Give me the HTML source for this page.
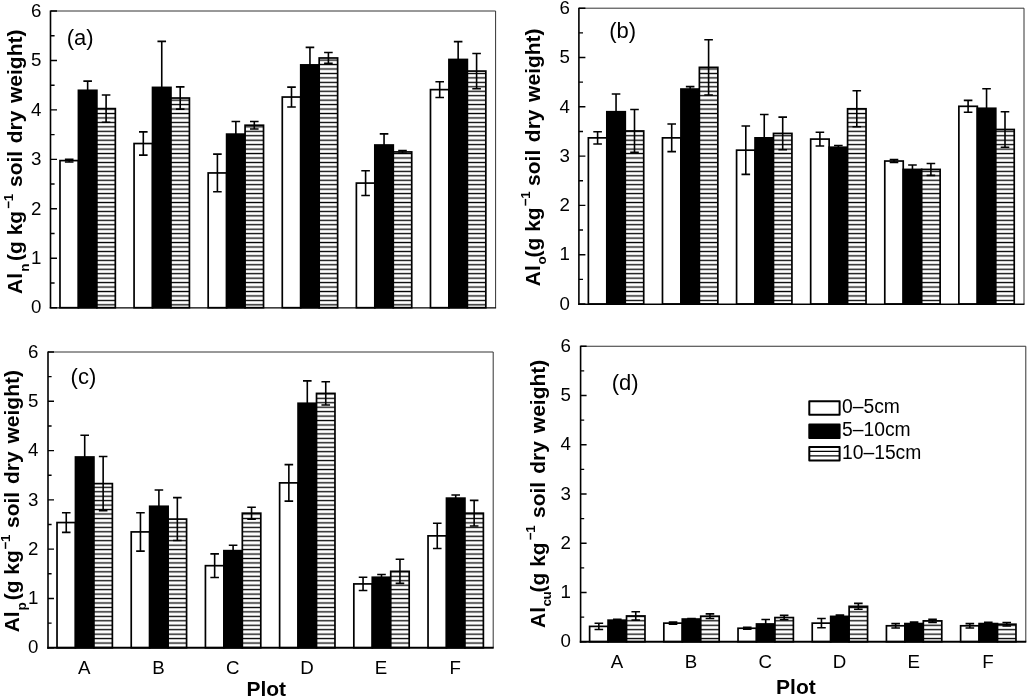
<!DOCTYPE html>
<html lang="en"><head><meta charset="utf-8"><title>Al fractions by plot and depth</title>
<style>html,body{margin:0;padding:0;background:#fff}body{width:1027px;height:697px;overflow:hidden}svg{display:block}
text{font-family:"Liberation Sans",Arial,Helvetica,sans-serif;fill:#000}
.tk{font-size:18.7px}.lab{font-size:21px;font-weight:bold;fill:#000}.ss{font-size:13.5px;letter-spacing:-0.6px}.lg{font-size:19.3px}.tag{font-size:22px}
</style></head><body>
<svg width="1027" height="697" viewBox="0 0 1027 697">
<defs><pattern id="hz" patternUnits="userSpaceOnUse" x="0" y="0" width="40" height="4.45"><rect width="40" height="4.45" fill="#fff"/><rect y="1.6" width="40" height="1.3" fill="#000"/></pattern></defs>
<rect width="1027" height="697" fill="#fff"/>
<g id="panel-a">
<rect x="59.98" y="160.59" width="18.45" height="147.11" fill="#fff" stroke="#000" stroke-width="1.7"/>
<path d="M69.20 159.20V161.97M64.90 159.20H73.50M64.90 161.97H73.50" stroke="#000" stroke-width="1.6" fill="none"/>
<rect x="78.43" y="90.32" width="18.45" height="217.38" fill="#000" stroke="#000" stroke-width="1.7"/>
<path d="M87.65 81.17V99.47M83.35 81.17H91.95M83.35 99.47H91.95" stroke="#000" stroke-width="1.6" fill="none"/>
<rect x="96.88" y="108.61" width="18.45" height="199.09" fill="url(#hz)" stroke="#000" stroke-width="1.7"/>
<path d="M106.10 95.02V122.21M101.80 95.02H110.40M101.80 122.21H110.40" stroke="#000" stroke-width="1.6" fill="none"/>
<rect x="134.07" y="143.53" width="18.45" height="164.17" fill="#fff" stroke="#000" stroke-width="1.7"/>
<path d="M143.30 131.91V155.15M139.00 131.91H147.60M139.00 155.15H147.60" stroke="#000" stroke-width="1.6" fill="none"/>
<rect x="152.52" y="87.40" width="18.45" height="220.30" fill="#000" stroke="#000" stroke-width="1.7"/>
<path d="M161.75 41.41V133.39M157.45 41.41H166.05M157.45 133.39H166.05" stroke="#000" stroke-width="1.6" fill="none"/>
<rect x="170.97" y="98.03" width="18.45" height="209.67" fill="url(#hz)" stroke="#000" stroke-width="1.7"/>
<path d="M180.20 86.91V109.16M175.90 86.91H184.50M175.90 109.16H184.50" stroke="#000" stroke-width="1.6" fill="none"/>
<rect x="208.18" y="172.95" width="18.45" height="134.75" fill="#fff" stroke="#000" stroke-width="1.7"/>
<path d="M217.40 154.16V191.74M213.10 154.16H221.70M213.10 191.74H221.70" stroke="#000" stroke-width="1.6" fill="none"/>
<rect x="226.62" y="134.13" width="18.45" height="173.57" fill="#000" stroke="#000" stroke-width="1.7"/>
<path d="M235.85 121.52V146.74M231.55 121.52H240.15M231.55 146.74H240.15" stroke="#000" stroke-width="1.6" fill="none"/>
<rect x="245.08" y="125.23" width="18.45" height="182.47" fill="url(#hz)" stroke="#000" stroke-width="1.7"/>
<path d="M254.30 121.52V128.94M250.00 121.52H258.60M250.00 128.94H258.60" stroke="#000" stroke-width="1.6" fill="none"/>
<rect x="282.28" y="97.04" width="18.45" height="210.66" fill="#fff" stroke="#000" stroke-width="1.7"/>
<path d="M291.50 87.15V106.93M287.20 87.15H295.80M287.20 106.93H295.80" stroke="#000" stroke-width="1.6" fill="none"/>
<rect x="300.73" y="64.90" width="18.45" height="242.80" fill="#000" stroke="#000" stroke-width="1.7"/>
<path d="M309.95 47.35V82.46M305.65 47.35H314.25M305.65 82.46H314.25" stroke="#000" stroke-width="1.6" fill="none"/>
<rect x="319.18" y="57.98" width="18.45" height="249.72" fill="url(#hz)" stroke="#000" stroke-width="1.7"/>
<path d="M328.40 52.54V63.42M324.10 52.54H332.70M324.10 63.42H332.70" stroke="#000" stroke-width="1.6" fill="none"/>
<rect x="356.38" y="183.09" width="18.45" height="124.61" fill="#fff" stroke="#000" stroke-width="1.7"/>
<path d="M365.60 170.72V195.45M361.30 170.72H369.90M361.30 195.45H369.90" stroke="#000" stroke-width="1.6" fill="none"/>
<rect x="374.83" y="145.01" width="18.45" height="162.69" fill="#000" stroke="#000" stroke-width="1.7"/>
<path d="M384.05 133.88V156.14M379.75 133.88H388.35M379.75 156.14H388.35" stroke="#000" stroke-width="1.6" fill="none"/>
<rect x="393.28" y="151.93" width="18.45" height="155.77" fill="url(#hz)" stroke="#000" stroke-width="1.7"/>
<path d="M402.50 150.55V153.32M398.20 150.55H406.80M398.20 153.32H406.80" stroke="#000" stroke-width="1.6" fill="none"/>
<rect x="430.48" y="89.63" width="18.45" height="218.07" fill="#fff" stroke="#000" stroke-width="1.7"/>
<path d="M439.70 81.71V97.54M435.40 81.71H444.00M435.40 97.54H444.00" stroke="#000" stroke-width="1.6" fill="none"/>
<rect x="448.93" y="59.46" width="18.45" height="248.24" fill="#000" stroke="#000" stroke-width="1.7"/>
<path d="M458.15 41.66V77.26M453.85 41.66H462.45M453.85 77.26H462.45" stroke="#000" stroke-width="1.6" fill="none"/>
<rect x="467.38" y="71.08" width="18.45" height="236.62" fill="url(#hz)" stroke="#000" stroke-width="1.7"/>
<path d="M476.60 53.43V88.74M472.30 53.43H480.90M472.30 88.74H480.90" stroke="#000" stroke-width="1.6" fill="none"/>
<path d="M51.00 11.00H495.60V307.70" stroke="#333" stroke-width="1" fill="none"/>
<path d="M50.50 10.50V308.35" stroke="#000" stroke-width="1.6" fill="none"/>
<path d="M49.70 307.95H496.10" stroke="#000" stroke-width="1.3" fill="none"/>
<path d="M50.50 307.70h6.5M50.50 282.97h4.1M50.50 258.25h6.5M50.50 233.52h4.1M50.50 208.80h6.5M50.50 184.07h4.1M50.50 159.35h6.5M50.50 134.62h4.1M50.50 109.90h6.5M50.50 85.18h4.1M50.50 60.45h6.5M50.50 35.73h4.1M50.50 11.00h6.5" stroke="#000" stroke-width="1.4" fill="none"/>
<text class="tk" x="41.40" y="313.40" text-anchor="end">0</text>
<text class="tk" x="41.40" y="263.95" text-anchor="end">1</text>
<text class="tk" x="41.40" y="214.50" text-anchor="end">2</text>
<text class="tk" x="41.40" y="165.05" text-anchor="end">3</text>
<text class="tk" x="41.40" y="115.60" text-anchor="end">4</text>
<text class="tk" x="41.40" y="66.15" text-anchor="end">5</text>
<text class="tk" x="41.40" y="16.70" text-anchor="end">6</text>
<text class="tag" x="66.80" y="44.50">(a)</text>
<text class="lab" transform="translate(22.30 294.00) rotate(-90)"><tspan x="0" y="0">Al</tspan><tspan class="ss" x="22.20" y="6.2">n</tspan><tspan x="33.00" y="0">(g kg</tspan><tspan class="ss" x="85.40" y="-9.4">−1</tspan><tspan x="107.00" y="0" style="word-spacing:1.75px">soil dry weight)</tspan></text>
</g>
<g id="panel-b">
<rect x="588.38" y="137.86" width="18.45" height="166.14" fill="#fff" stroke="#000" stroke-width="1.7"/>
<path d="M597.60 131.70V144.02M593.30 131.70H601.90M593.30 144.02H601.90" stroke="#000" stroke-width="1.6" fill="none"/>
<rect x="606.83" y="111.73" width="18.45" height="192.27" fill="#000" stroke="#000" stroke-width="1.7"/>
<path d="M616.05 93.98V129.48M611.75 93.98H620.35M611.75 129.48H620.35" stroke="#000" stroke-width="1.6" fill="none"/>
<rect x="625.27" y="130.96" width="18.45" height="173.04" fill="url(#hz)" stroke="#000" stroke-width="1.7"/>
<path d="M634.50 109.51V152.40M630.20 109.51H638.80M630.20 152.40H638.80" stroke="#000" stroke-width="1.6" fill="none"/>
<rect x="662.48" y="137.86" width="18.45" height="166.14" fill="#fff" stroke="#000" stroke-width="1.7"/>
<path d="M671.70 124.05V151.66M667.40 124.05H676.00M667.40 151.66H676.00" stroke="#000" stroke-width="1.6" fill="none"/>
<rect x="680.93" y="89.05" width="18.45" height="214.95" fill="#000" stroke="#000" stroke-width="1.7"/>
<path d="M690.15 86.59V91.52M685.85 86.59H694.45M685.85 91.52H694.45" stroke="#000" stroke-width="1.6" fill="none"/>
<rect x="699.38" y="67.36" width="18.45" height="236.64" fill="url(#hz)" stroke="#000" stroke-width="1.7"/>
<path d="M708.60 39.75V94.97M704.30 39.75H712.90M704.30 94.97H712.90" stroke="#000" stroke-width="1.6" fill="none"/>
<rect x="736.58" y="150.18" width="18.45" height="153.82" fill="#fff" stroke="#000" stroke-width="1.7"/>
<path d="M745.80 126.03V174.34M741.50 126.03H750.10M741.50 174.34H750.10" stroke="#000" stroke-width="1.6" fill="none"/>
<rect x="755.03" y="137.86" width="18.45" height="166.14" fill="#000" stroke="#000" stroke-width="1.7"/>
<path d="M764.25 114.44V161.28M759.95 114.44H768.55M759.95 161.28H768.55" stroke="#000" stroke-width="1.6" fill="none"/>
<rect x="773.48" y="133.42" width="18.45" height="170.58" fill="url(#hz)" stroke="#000" stroke-width="1.7"/>
<path d="M782.70 117.15V149.69M778.40 117.15H787.00M778.40 149.69H787.00" stroke="#000" stroke-width="1.6" fill="none"/>
<rect x="810.68" y="139.09" width="18.45" height="164.91" fill="#fff" stroke="#000" stroke-width="1.7"/>
<path d="M819.90 132.19V145.99M815.60 132.19H824.20M815.60 145.99H824.20" stroke="#000" stroke-width="1.6" fill="none"/>
<rect x="829.13" y="147.23" width="18.45" height="156.77" fill="#000" stroke="#000" stroke-width="1.7"/>
<path d="M838.35 145.50V148.95M834.05 145.50H842.65M834.05 148.95H842.65" stroke="#000" stroke-width="1.6" fill="none"/>
<rect x="847.58" y="108.77" width="18.45" height="195.23" fill="url(#hz)" stroke="#000" stroke-width="1.7"/>
<path d="M856.80 90.78V126.77M852.50 90.78H861.10M852.50 126.77H861.10" stroke="#000" stroke-width="1.6" fill="none"/>
<rect x="884.78" y="161.03" width="18.45" height="142.97" fill="#fff" stroke="#000" stroke-width="1.7"/>
<path d="M894.00 159.65V162.41M889.70 159.65H898.30M889.70 162.41H898.30" stroke="#000" stroke-width="1.6" fill="none"/>
<rect x="903.23" y="169.41" width="18.45" height="134.59" fill="#000" stroke="#000" stroke-width="1.7"/>
<path d="M912.45 164.97V173.85M908.15 164.97H916.75M908.15 173.85H916.75" stroke="#000" stroke-width="1.6" fill="none"/>
<rect x="921.68" y="169.41" width="18.45" height="134.59" fill="url(#hz)" stroke="#000" stroke-width="1.7"/>
<path d="M930.90 163.49V175.33M926.60 163.49H935.20M926.60 175.33H935.20" stroke="#000" stroke-width="1.6" fill="none"/>
<rect x="958.88" y="106.31" width="18.45" height="197.69" fill="#fff" stroke="#000" stroke-width="1.7"/>
<path d="M968.10 100.39V112.22M963.80 100.39H972.40M963.80 112.22H972.40" stroke="#000" stroke-width="1.6" fill="none"/>
<rect x="977.33" y="108.28" width="18.45" height="195.72" fill="#000" stroke="#000" stroke-width="1.7"/>
<path d="M986.55 88.81V127.75M982.25 88.81H990.85M982.25 127.75H990.85" stroke="#000" stroke-width="1.6" fill="none"/>
<rect x="995.78" y="129.48" width="18.45" height="174.52" fill="url(#hz)" stroke="#000" stroke-width="1.7"/>
<path d="M1005.00 111.73V147.23M1000.70 111.73H1009.30M1000.70 147.23H1009.30" stroke="#000" stroke-width="1.6" fill="none"/>
<path d="M579.40 8.20H1024.00V304.00" stroke="#333" stroke-width="1" fill="none"/>
<path d="M578.90 7.70V304.65" stroke="#000" stroke-width="1.6" fill="none"/>
<path d="M578.10 304.25H1024.50" stroke="#000" stroke-width="1.3" fill="none"/>
<path d="M578.90 304.00h6.5M578.90 279.35h4.1M578.90 254.70h6.5M578.90 230.05h4.1M578.90 205.40h6.5M578.90 180.75h4.1M578.90 156.10h6.5M578.90 131.45h4.1M578.90 106.80h6.5M578.90 82.15h4.1M578.90 57.50h6.5M578.90 32.85h4.1M578.90 8.20h6.5" stroke="#000" stroke-width="1.4" fill="none"/>
<text class="tk" x="569.80" y="309.70" text-anchor="end">0</text>
<text class="tk" x="569.80" y="260.40" text-anchor="end">1</text>
<text class="tk" x="569.80" y="211.10" text-anchor="end">2</text>
<text class="tk" x="569.80" y="161.80" text-anchor="end">3</text>
<text class="tk" x="569.80" y="112.50" text-anchor="end">4</text>
<text class="tk" x="569.80" y="63.20" text-anchor="end">5</text>
<text class="tk" x="569.80" y="13.90" text-anchor="end">6</text>
<text class="tag" x="609.30" y="38.00">(b)</text>
<text class="lab" transform="translate(539.80 286.20) rotate(-90)"><tspan x="0" y="0">Al</tspan><tspan class="ss" x="21.60" y="6.2">o</tspan><tspan x="28.70" y="0">(g kg</tspan><tspan class="ss" x="80.20" y="-9.4">−1</tspan><tspan x="100.30" y="0" style="word-spacing:1.75px">soil dry weight)</tspan></text>
</g>
<g id="panel-c">
<rect x="57.02" y="522.55" width="18.45" height="125.20" fill="#fff" stroke="#000" stroke-width="1.7"/>
<path d="M66.25 512.69V532.41M61.95 512.69H70.55M61.95 532.41H70.55" stroke="#000" stroke-width="1.6" fill="none"/>
<rect x="75.47" y="456.99" width="18.45" height="190.76" fill="#000" stroke="#000" stroke-width="1.7"/>
<path d="M84.70 435.30V478.68M80.40 435.30H89.00M80.40 478.68H89.00" stroke="#000" stroke-width="1.6" fill="none"/>
<rect x="93.92" y="483.61" width="18.45" height="164.14" fill="url(#hz)" stroke="#000" stroke-width="1.7"/>
<path d="M103.15 456.50V510.72M98.85 456.50H107.45M98.85 510.72H107.45" stroke="#000" stroke-width="1.6" fill="none"/>
<rect x="131.23" y="531.91" width="18.45" height="115.84" fill="#fff" stroke="#000" stroke-width="1.7"/>
<path d="M140.45 512.69V551.14M136.15 512.69H144.75M136.15 551.14H144.75" stroke="#000" stroke-width="1.6" fill="none"/>
<rect x="149.68" y="506.28" width="18.45" height="141.47" fill="#000" stroke="#000" stroke-width="1.7"/>
<path d="M158.90 490.02V522.55M154.60 490.02H163.20M154.60 522.55H163.20" stroke="#000" stroke-width="1.6" fill="none"/>
<rect x="168.13" y="519.10" width="18.45" height="128.65" fill="url(#hz)" stroke="#000" stroke-width="1.7"/>
<path d="M177.35 497.66V540.54M173.05 497.66H181.65M173.05 540.54H181.65" stroke="#000" stroke-width="1.6" fill="none"/>
<rect x="205.43" y="565.68" width="18.45" height="82.07" fill="#fff" stroke="#000" stroke-width="1.7"/>
<path d="M214.65 553.85V577.51M210.35 553.85H218.95M210.35 577.51H218.95" stroke="#000" stroke-width="1.6" fill="none"/>
<rect x="223.88" y="550.65" width="18.45" height="97.10" fill="#000" stroke="#000" stroke-width="1.7"/>
<path d="M233.10 545.22V556.07M228.80 545.22H237.40M228.80 556.07H237.40" stroke="#000" stroke-width="1.6" fill="none"/>
<rect x="242.33" y="513.18" width="18.45" height="134.57" fill="url(#hz)" stroke="#000" stroke-width="1.7"/>
<path d="M251.55 507.27V519.10M247.25 507.27H255.85M247.25 519.10H255.85" stroke="#000" stroke-width="1.6" fill="none"/>
<rect x="279.62" y="482.87" width="18.45" height="164.88" fill="#fff" stroke="#000" stroke-width="1.7"/>
<path d="M288.85 464.63V501.11M284.55 464.63H293.15M284.55 501.11H293.15" stroke="#000" stroke-width="1.6" fill="none"/>
<rect x="298.07" y="403.26" width="18.45" height="244.49" fill="#000" stroke="#000" stroke-width="1.7"/>
<path d="M307.30 380.84V425.69M303.00 380.84H311.60M303.00 425.69H311.60" stroke="#000" stroke-width="1.6" fill="none"/>
<rect x="316.52" y="393.40" width="18.45" height="254.35" fill="url(#hz)" stroke="#000" stroke-width="1.7"/>
<path d="M325.75 381.82V404.99M321.45 381.82H330.05M321.45 404.99H330.05" stroke="#000" stroke-width="1.6" fill="none"/>
<rect x="353.83" y="583.92" width="18.45" height="63.83" fill="#fff" stroke="#000" stroke-width="1.7"/>
<path d="M363.05 577.26V590.57M358.75 577.26H367.35M358.75 590.57H367.35" stroke="#000" stroke-width="1.6" fill="none"/>
<rect x="372.28" y="577.26" width="18.45" height="70.49" fill="#000" stroke="#000" stroke-width="1.7"/>
<path d="M381.50 574.55V579.97M377.20 574.55H385.80M377.20 579.97H385.80" stroke="#000" stroke-width="1.6" fill="none"/>
<rect x="390.73" y="571.35" width="18.45" height="76.40" fill="url(#hz)" stroke="#000" stroke-width="1.7"/>
<path d="M399.95 559.27V583.42M395.65 559.27H404.25M395.65 583.42H404.25" stroke="#000" stroke-width="1.6" fill="none"/>
<rect x="428.03" y="535.86" width="18.45" height="111.89" fill="#fff" stroke="#000" stroke-width="1.7"/>
<path d="M437.25 523.29V548.43M432.95 523.29H441.55M432.95 548.43H441.55" stroke="#000" stroke-width="1.6" fill="none"/>
<rect x="446.48" y="498.15" width="18.45" height="149.60" fill="#000" stroke="#000" stroke-width="1.7"/>
<path d="M455.70 494.95V501.35M451.40 494.95H460.00M451.40 501.35H460.00" stroke="#000" stroke-width="1.6" fill="none"/>
<rect x="464.93" y="513.18" width="18.45" height="134.57" fill="url(#hz)" stroke="#000" stroke-width="1.7"/>
<path d="M474.15 500.37V526.00M469.85 500.37H478.45M469.85 526.00H478.45" stroke="#000" stroke-width="1.6" fill="none"/>
<path d="M48.00 352.00H493.20V647.75" stroke="#333" stroke-width="1" fill="none"/>
<path d="M48.00 351.50V648.75" stroke="#000" stroke-width="1.6" fill="none"/>
<path d="M47.20 647.75H493.70" stroke="#000" stroke-width="2.0" fill="none"/>
<path d="M48.00 647.75h6.0M48.00 623.10h3.6M48.00 598.46h6.0M48.00 573.81h3.6M48.00 549.17h6.0M48.00 524.52h3.6M48.00 499.88h6.0M48.00 475.23h3.6M48.00 450.58h6.0M48.00 425.94h3.6M48.00 401.29h6.0M48.00 376.65h3.6M48.00 352.00h6.0" stroke="#000" stroke-width="1.4" fill="none"/>
<text class="tk" x="38.40" y="653.45" text-anchor="end">0</text>
<text class="tk" x="38.40" y="604.16" text-anchor="end">1</text>
<text class="tk" x="38.40" y="554.87" text-anchor="end">2</text>
<text class="tk" x="38.40" y="505.57" text-anchor="end">3</text>
<text class="tk" x="38.40" y="456.28" text-anchor="end">4</text>
<text class="tk" x="38.40" y="406.99" text-anchor="end">5</text>
<text class="tk" x="38.40" y="357.70" text-anchor="end">6</text>
<text class="tag" x="70.60" y="383.50">(c)</text>
<text class="tk" x="84.30" y="673.75" text-anchor="middle">A</text>
<text class="tk" x="158.50" y="673.75" text-anchor="middle">B</text>
<text class="tk" x="232.70" y="673.75" text-anchor="middle">C</text>
<text class="tk" x="306.90" y="673.75" text-anchor="middle">D</text>
<text class="tk" x="381.10" y="673.75" text-anchor="middle">E</text>
<text class="tk" x="455.30" y="673.75" text-anchor="middle">F</text>
<text class="lab" x="266.30" y="696.30" text-anchor="middle">Plot</text>
<text class="lab" transform="translate(19.30 632.30) rotate(-90)"><tspan x="0" y="0">Al</tspan><tspan class="ss" x="21.80" y="6.2">p</tspan><tspan x="32.00" y="0">(g kg</tspan><tspan class="ss" x="83.00" y="-9.4">−1</tspan><tspan x="104.30" y="0" style="word-spacing:2.00px">soil dry weight)</tspan></text>
</g>
<g id="panel-d">
<rect x="589.63" y="626.39" width="18.45" height="15.31" fill="#fff" stroke="#000" stroke-width="1.7"/>
<path d="M598.85 623.28V629.49M594.55 623.28H603.15M594.55 629.49H603.15" stroke="#000" stroke-width="1.6" fill="none"/>
<rect x="608.08" y="620.18" width="18.45" height="21.52" fill="#000" stroke="#000" stroke-width="1.7"/>
<path d="M617.30 619.20V621.17M613.00 619.20H621.60M613.00 621.17H621.60" stroke="#000" stroke-width="1.6" fill="none"/>
<rect x="626.53" y="615.95" width="18.45" height="25.75" fill="url(#hz)" stroke="#000" stroke-width="1.7"/>
<path d="M635.75 611.76V620.13M631.45 611.76H640.05M631.45 620.13H640.05" stroke="#000" stroke-width="1.6" fill="none"/>
<rect x="663.83" y="623.14" width="18.45" height="18.56" fill="#fff" stroke="#000" stroke-width="1.7"/>
<path d="M673.05 622.15V624.12M668.75 622.15H677.35M668.75 624.12H677.35" stroke="#000" stroke-width="1.6" fill="none"/>
<rect x="682.28" y="619.05" width="18.45" height="22.65" fill="#000" stroke="#000" stroke-width="1.7"/>
<path d="M691.50 618.56V619.54M687.20 618.56H695.80M687.20 619.54H695.80" stroke="#000" stroke-width="1.6" fill="none"/>
<rect x="700.73" y="616.19" width="18.45" height="25.51" fill="url(#hz)" stroke="#000" stroke-width="1.7"/>
<path d="M709.95 613.83V618.56M705.65 613.83H714.25M705.65 618.56H714.25" stroke="#000" stroke-width="1.6" fill="none"/>
<rect x="738.03" y="628.26" width="18.45" height="13.44" fill="#fff" stroke="#000" stroke-width="1.7"/>
<path d="M747.25 627.27V629.24M742.95 627.27H751.55M742.95 629.24H751.55" stroke="#000" stroke-width="1.6" fill="none"/>
<rect x="756.48" y="623.97" width="18.45" height="17.73" fill="#000" stroke="#000" stroke-width="1.7"/>
<path d="M765.70 619.54V628.40M761.40 619.54H770.00M761.40 628.40H770.00" stroke="#000" stroke-width="1.6" fill="none"/>
<rect x="774.93" y="617.57" width="18.45" height="24.13" fill="url(#hz)" stroke="#000" stroke-width="1.7"/>
<path d="M784.15 615.36V619.79M779.85 615.36H788.45M779.85 619.79H788.45" stroke="#000" stroke-width="1.6" fill="none"/>
<rect x="812.23" y="623.14" width="18.45" height="18.56" fill="#fff" stroke="#000" stroke-width="1.7"/>
<path d="M821.45 618.46V627.81M817.15 618.46H825.75M817.15 627.81H825.75" stroke="#000" stroke-width="1.6" fill="none"/>
<rect x="830.68" y="616.39" width="18.45" height="25.31" fill="#000" stroke="#000" stroke-width="1.7"/>
<path d="M839.90 615.16V617.62M835.60 615.16H844.20M835.60 617.62H844.20" stroke="#000" stroke-width="1.6" fill="none"/>
<rect x="849.12" y="606.34" width="18.45" height="35.36" fill="url(#hz)" stroke="#000" stroke-width="1.7"/>
<path d="M858.35 603.39V609.30M854.05 603.39H862.65M854.05 609.30H862.65" stroke="#000" stroke-width="1.6" fill="none"/>
<rect x="886.43" y="625.79" width="18.45" height="15.91" fill="#fff" stroke="#000" stroke-width="1.7"/>
<path d="M895.65 623.58V628.01M891.35 623.58H899.95M891.35 628.01H899.95" stroke="#000" stroke-width="1.6" fill="none"/>
<rect x="904.88" y="623.58" width="18.45" height="18.12" fill="#000" stroke="#000" stroke-width="1.7"/>
<path d="M914.10 622.10V625.06M909.80 622.10H918.40M909.80 625.06H918.40" stroke="#000" stroke-width="1.6" fill="none"/>
<rect x="923.33" y="620.87" width="18.45" height="20.83" fill="url(#hz)" stroke="#000" stroke-width="1.7"/>
<path d="M932.55 619.39V622.35M928.25 619.39H936.85M928.25 622.35H936.85" stroke="#000" stroke-width="1.6" fill="none"/>
<rect x="960.62" y="625.79" width="18.45" height="15.91" fill="#fff" stroke="#000" stroke-width="1.7"/>
<path d="M969.85 623.58V628.01M965.55 623.58H974.15M965.55 628.01H974.15" stroke="#000" stroke-width="1.6" fill="none"/>
<rect x="979.08" y="623.58" width="18.45" height="18.12" fill="#000" stroke="#000" stroke-width="1.7"/>
<path d="M988.30 622.35V624.81M984.00 622.35H992.60M984.00 624.81H992.60" stroke="#000" stroke-width="1.6" fill="none"/>
<rect x="997.52" y="624.22" width="18.45" height="17.48" fill="url(#hz)" stroke="#000" stroke-width="1.7"/>
<path d="M1006.75 622.50V625.94M1002.45 622.50H1011.05M1002.45 625.94H1011.05" stroke="#000" stroke-width="1.6" fill="none"/>
<path d="M580.60 346.25H1025.80V641.70" stroke="#333" stroke-width="1" fill="none"/>
<path d="M580.60 345.75V642.70" stroke="#000" stroke-width="1.6" fill="none"/>
<path d="M579.80 641.70H1026.30" stroke="#000" stroke-width="2.0" fill="none"/>
<path d="M580.60 641.70h6.0M580.60 617.08h3.6M580.60 592.46h6.0M580.60 567.84h3.6M580.60 543.22h6.0M580.60 518.60h3.6M580.60 493.98h6.0M580.60 469.35h3.6M580.60 444.73h6.0M580.60 420.11h3.6M580.60 395.49h6.0M580.60 370.87h3.6M580.60 346.25h6.0" stroke="#000" stroke-width="1.4" fill="none"/>
<text class="tk" x="571.00" y="647.40" text-anchor="end">0</text>
<text class="tk" x="571.00" y="598.16" text-anchor="end">1</text>
<text class="tk" x="571.00" y="548.92" text-anchor="end">2</text>
<text class="tk" x="571.00" y="499.68" text-anchor="end">3</text>
<text class="tk" x="571.00" y="450.43" text-anchor="end">4</text>
<text class="tk" x="571.00" y="401.19" text-anchor="end">5</text>
<text class="tk" x="571.00" y="351.95" text-anchor="end">6</text>
<text class="tag" x="611.70" y="390.00">(d)</text>
<text class="tk" x="616.90" y="667.70" text-anchor="middle">A</text>
<text class="tk" x="691.10" y="667.70" text-anchor="middle">B</text>
<text class="tk" x="765.30" y="667.70" text-anchor="middle">C</text>
<text class="tk" x="839.50" y="667.70" text-anchor="middle">D</text>
<text class="tk" x="913.70" y="667.70" text-anchor="middle">E</text>
<text class="tk" x="987.90" y="667.70" text-anchor="middle">F</text>
<text class="lab" x="795.90" y="693.60" text-anchor="middle">Plot</text>
<text class="lab" transform="translate(544.85 628.00) rotate(-90)"><tspan x="0" y="0">Al</tspan><tspan class="ss" x="21.60" y="6.2">cu</tspan><tspan x="35.50" y="0">(g kg</tspan><tspan class="ss" x="87.90" y="-9.4">−1</tspan><tspan x="110.00" y="0" style="word-spacing:2.15px">soil dry weight)</tspan></text>
</g>
<g id="legend">
<rect x="809.30" y="401.25" width="30.30" height="13.60" fill="#fff" stroke="#000" stroke-width="2" stroke-linejoin="round"/>
<text class="lg" x="842.00" y="413.10">0–5cm</text>
<rect x="809.30" y="424.45" width="30.30" height="13.60" fill="#000" stroke="#000" stroke-width="2" stroke-linejoin="round"/>
<text class="lg" x="842.00" y="436.20">5–10cm</text>
<rect x="809.30" y="446.95" width="30.30" height="13.60" fill="#fff" stroke="#000" stroke-width="2" stroke-linejoin="round"/>
<path d="M809.3 451.45h30.3M809.3 455.95h30.3" stroke="#000" stroke-width="1.3" fill="none"/>
<text class="lg" x="842.00" y="459.20">10–15cm</text>
</g>
</svg></body></html>
